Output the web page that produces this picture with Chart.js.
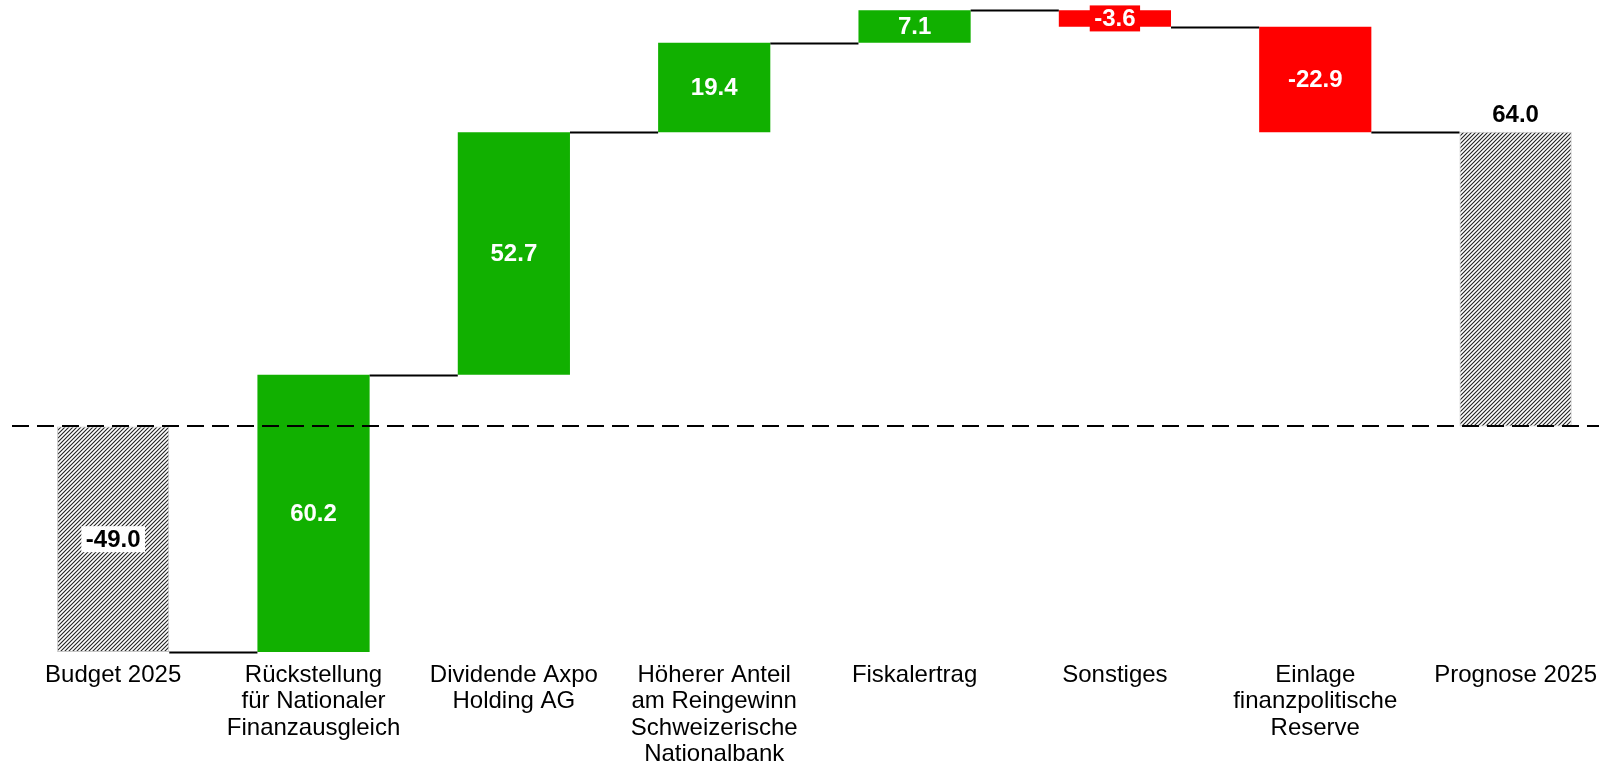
<!DOCTYPE html>
<html>
<head>
<meta charset="utf-8">
<script src="https://cdn.jsdelivr.net/npm/chart.js@4"></script>
<style>
  body { margin: 0; background: #fff; overflow: hidden; }
</style>
</head>
<body>
<canvas id="myChart" width="1599" height="761"></canvas>
<script>
// Kategorien (mehrzeilige Achsenbeschriftung)
const cats = [
  ['Budget 2025'],
  ['Rückstellung', 'für Nationaler', 'Finanzausgleich'],
  ['Dividende Axpo', 'Holding AG'],
  ['Höherer Anteil', 'am Reingewinn', 'Schweizerische', 'Nationalbank'],
  ['Fiskalertrag'],
  ['Sonstiges'],
  ['Einlage', 'finanzpolitische', 'Reserve'],
  ['Prognose 2025']
];
const values = [-49.0, 60.2, 52.7, 19.4, 7.1, -3.6, -22.9, 64.0];
const isTotal = [true, false, false, false, false, false, false, true];

const FONT = '"Liberation Sans", Arial, sans-serif';
const green = '#11B000';
const red = '#FF0000';

// Wasserfall: Start/Ende jeder Säule
let run = 0;
const ranges = values.map((v, i) => {
  if (isTotal[i]) { run = v; return [0, v]; }
  const r = [run, run + v];
  run += v;
  return r;
});

// Schraffur für Budget/Prognose
const tile = document.createElement('canvas');
tile.width = 4; tile.height = 4;
const t = tile.getContext('2d');
t.fillStyle = '#fff';
t.fillRect(0, 0, 4, 4);
t.strokeStyle = '#222';
t.lineWidth = 1.1;
t.beginPath();
t.moveTo(0, 4); t.lineTo(4, 0);
t.moveTo(-1, 1); t.lineTo(1, -1);
t.moveTo(3, 5); t.lineTo(5, 3);
t.stroke();

const ctx = document.getElementById('myChart').getContext('2d');
const hatch = ctx.createPattern(tile, 'repeat');

const colors = values.map((v, i) => isTotal[i] ? hatch : (v >= 0 ? green : red));

const waterfallPlugin = {
  id: 'waterfall',
  afterDatasetsDraw(chart) {
    const c = chart.ctx;
    const meta = chart.getDatasetMeta(0);
    const ys = chart.scales.y;
    // Verbindungslinien
    c.save();
    c.strokeStyle = '#000';
    c.lineWidth = 2;
    for (let i = 0; i < meta.data.length - 1; i++) {
      const a = meta.data[i], b = meta.data[i + 1];
      const y = Math.round(ys.getPixelForValue(ranges[i][1])) + 0.5;
      c.beginPath();
      c.moveTo(a.x + a.width / 2, y);
      c.lineTo(b.x - b.width / 2, y);
      c.stroke();
    }
    // Nulllinie gestrichelt
    const y0 = Math.round(ys.getPixelForValue(0));
    c.setLineDash([17, 8]);
    c.beginPath();
    c.moveTo(12, y0);
    c.lineTo(chart.width, y0);
    c.stroke();
    c.restore();

    // Werte
    c.save();
    c.font = 'bold 24px ' + FONT;
    c.textAlign = 'center';
    c.textBaseline = 'middle';
    meta.data.forEach((bar, i) => {
      const txt = values[i].toFixed(1);
      const top = Math.min(bar.y, bar.base), bottom = Math.max(bar.y, bar.base);
      let cy = (top + bottom) / 2;
      const w = c.measureText(txt).width + 9;
      if (isTotal[i]) {
        if (values[i] >= 0) {
          cy = top - 17;
          c.fillStyle = '#000';
        } else {
          c.fillStyle = '#fff';
          c.fillRect(bar.x - w / 2, cy - 13, w, 26);
          c.fillStyle = '#000';
        }
      } else {
        if (bottom - top < 28) {
          c.fillStyle = colors[i];
          c.fillRect(bar.x - w / 2, cy - 13, w, 26);
        }
        c.fillStyle = '#fff';
      }
      c.fillText(txt, bar.x, cy + 1);
    });
    c.restore();
  }
};

new Chart(ctx, {
  type: 'bar',
  data: {
    datasets: [{
      data: ranges.map((r, i) => ({ x: i, y: r })),
      backgroundColor: colors,
      borderColor: values.map((v, i) => isTotal[i] ? '#c8c8c8' : 'rgba(0,0,0,0)'),
      borderWidth: values.map((v, i) => isTotal[i] ? 1 : 0),
      borderSkipped: false,
      categoryPercentage: 1,
      barPercentage: 0.56
    }]
  },
  options: {
    responsive: false,
    animation: false,
    layout: { padding: { left: 13, right: 0, top: 0, bottom: 0 } },
    plugins: {
      legend: { display: false },
      tooltip: { enabled: false }
    },
    scales: {
      x: {
        type: 'linear',
        min: -0.5,
        max: 7.41,
        offset: false,
        grid: { display: false },
        border: { display: false },
        afterBuildTicks: s => { s.ticks = cats.map((c, i) => ({ value: i })); },
        afterFit: s => { s.height = 109; },
        ticks: {
          callback: v => cats[v],
          autoSkip: false,
          maxRotation: 0,
          padding: 2,
          color: '#000',
          font: { family: FONT, size: 24, lineHeight: 1.1 }
        }
      },
      y: {
        display: false,
        min: -49,
        max: 92.6
      }
    }
  },
  plugins: [waterfallPlugin]
});
</script>
</body>
</html>
